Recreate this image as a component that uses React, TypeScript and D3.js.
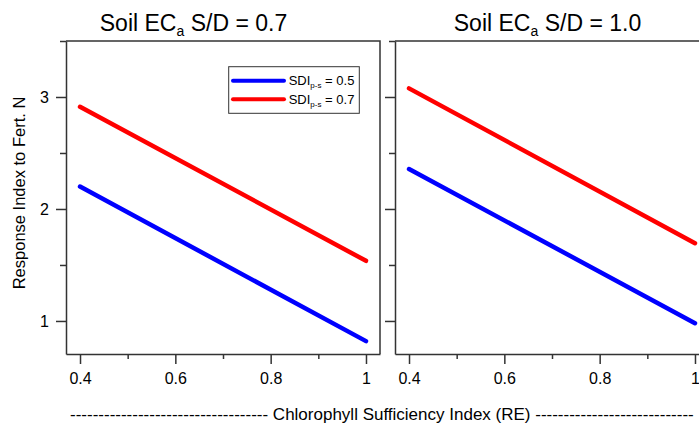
import React, { useEffect, useRef } from 'react';
import * as d3 from 'd3';

// values
const panelTitles = ['0.7', '1.0'];
const xEnds = [0.4, 1.0];
const sdi05 = [
  [2.2, 0.82],
  [2.357, 0.98],
];
const sdi07 = [
  [2.913, 1.537],
  [3.077, 1.694],
];
const series = [
  { label: '0.5', color: '#0000FF', values: sdi05 },
  { label: '0.7', color: '#FF0000', values: sdi07 },
];
const xMajor = [0.4, 0.6, 0.8, 1.0];
const xMinor = [0.5, 0.7, 0.9];
const yMajor = [1, 2, 3];
const yMinor = [1.5, 2.5, 3.5];

const width = 699;
const height = 425;
const font = '"Liberation Sans", Arial, sans-serif';
const axisColor = '#333';

export default function App() {
  const svgRef = useRef<SVGSVGElement | null>(null);

  useEffect(() => {
    document.body.style.margin = '0';
    if (!svgRef.current) return;
    const svg = d3.select(svgRef.current);
    svg.selectAll('*').remove();

    const top = 41;
    const bottom = 354;
    const panelW = 314;
    const panelLefts = [66, 395];
    const titleX = [193.5, 547.5];

    const y = d3.scaleLinear().domain([0.705, 3.5]).range([bottom, top]);

    panelLefts.forEach((left, i) => {
      const x = d3.scaleLinear().domain([0.3706, 1.0294]).range([left, left + panelW]);
      const g = svg.append('g');

      // frame (top + right)
      g.append('path')
        .attr('d', `M${left},${top}H${left + panelW}V${bottom}`)
        .attr('fill', 'none')
        .attr('stroke', axisColor)
        .attr('stroke-width', 1.5);

      // x axis
      const xa = g.append('g').attr('transform', `translate(0,${bottom})`)
        .call(d3.axisBottom(x).tickValues(xMajor).tickSize(10).tickPadding(9)
          .tickFormat(d => d3.format('~g')(d as number)).tickSizeOuter(0));
      g.append('g').attr('transform', `translate(0,${bottom})`)
        .call(d3.axisBottom(x).tickValues(xMinor).tickSize(5).tickFormat(() => '').tickSizeOuter(0))
        .select('.domain').remove();
      xa.selectAll('text').attr('font-size', 16).attr('font-family', font).attr('fill', '#000');

      // y axis
      const ya = g.append('g').attr('transform', `translate(${left},0)`)
        .call(d3.axisLeft(y).tickValues(yMajor).tickSize(10).tickPadding(7)
          .tickFormat(i === 0 ? (d => String(d)) : () => '').tickSizeOuter(0));
      g.append('g').attr('transform', `translate(${left},0)`)
        .call(d3.axisLeft(y).tickValues(yMinor).tickSize(6).tickFormat(() => '').tickSizeOuter(0))
        .select('.domain').remove();
      ya.selectAll('text').attr('font-size', 16).attr('font-family', font).attr('fill', '#000');

      g.selectAll('.domain, .tick line').attr('stroke', axisColor).attr('stroke-width', 1.5);

      // lines
      const line = d3.line<number>().x((_, j) => x(xEnds[j])).y(v => y(v));
      series.forEach(s => {
        g.append('path')
          .attr('d', line(s.values[i]))
          .attr('fill', 'none')
          .attr('stroke', s.color)
          .attr('stroke-width', 4.5)
          .attr('stroke-linecap', 'round');
      });

      // title
      const t = g.append('text')
        .attr('x', titleX[i]).attr('y', 30.5)
        .attr('text-anchor', 'middle')
        .attr('font-family', font).attr('font-size', 23);
      t.append('tspan').text('Soil EC');
      t.append('tspan').attr('dy', 5).attr('font-size', 14).text('a');
      t.append('tspan').attr('dy', -5).text(` S/D = ${panelTitles[i]}`);
    });

    // legend
    const lg = svg.append('g');
    lg.append('rect')
      .attr('x', 228.7).attr('y', 66.7).attr('width', 130.6).attr('height', 46.6)
      .attr('fill', '#fff').attr('stroke', axisColor).attr('stroke-width', 1);
    series.forEach((s, k) => {
      const ly = 80.7 + k * 18.6;
      lg.append('line')
        .attr('x1', 233).attr('x2', 284).attr('y1', ly).attr('y2', ly)
        .attr('stroke', s.color).attr('stroke-width', 4).attr('stroke-linecap', 'round');
      const tx = lg.append('text')
        .attr('x', 288.7).attr('y', ly + 4.5)
        .attr('font-family', font).attr('font-size', 13);
      tx.append('tspan').text('SDI');
      tx.append('tspan').attr('dy', 3).attr('font-size', 8).text('p-s');
      tx.append('tspan').attr('dy', -3).text(` = ${s.label}`);
    });

    // axis titles
    svg.append('text')
      .attr('transform', `translate(25,193) rotate(-90)`)
      .attr('text-anchor', 'middle')
      .attr('font-family', font).attr('font-size', 16.5)
      .text('Response Index to Fert. N');

    svg.append('text')
      .attr('x', 70).attr('y', 420)
      .attr('font-family', font).attr('font-size', 17)
      .text(`${'-'.repeat(35)} Chlorophyll Sufficiency Index (RE) ${'-'.repeat(28)}`);
  }, []);

  return <svg ref={svgRef} width={width} height={height} style={{ display: 'block', background: '#fff' }} />;
}
